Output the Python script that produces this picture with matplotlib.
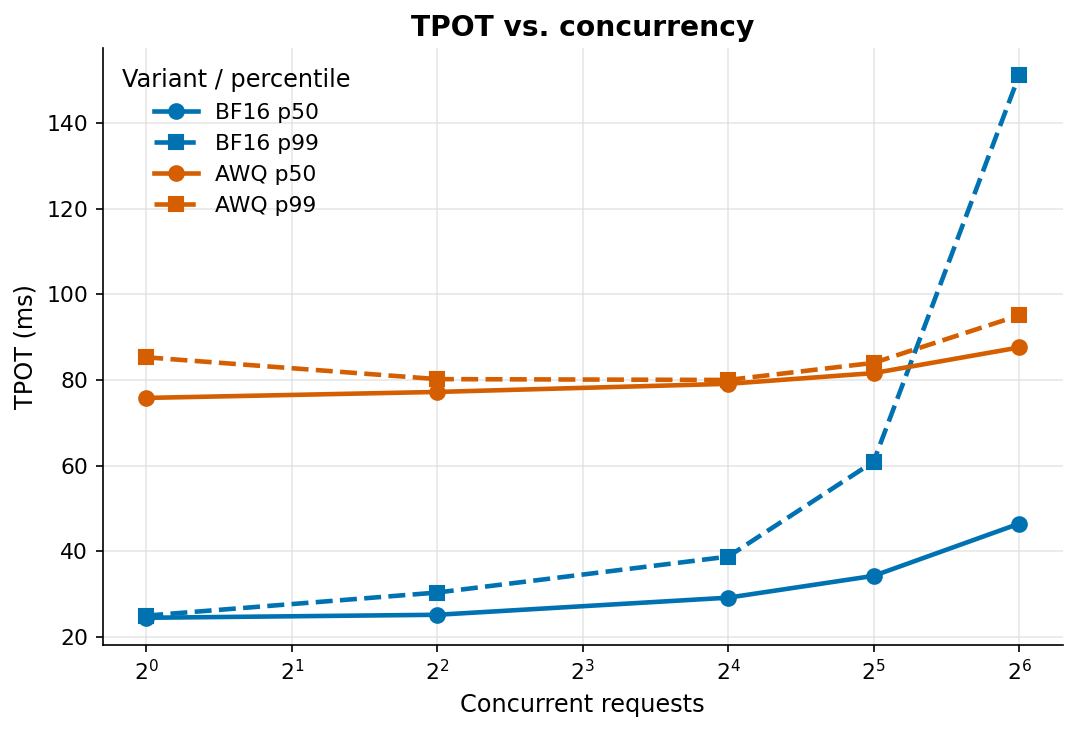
import numpy as np
import matplotlib.pyplot as plt

# Datos
concurrency = [1, 4, 16, 32, 64]
bf16_p50 = [24.4, 25.1, 29.1, 34.2, 46.4]
bf16_p99 = [24.9, 30.3, 38.7, 60.9, 151.2]
awq_p50 = [75.8, 77.2, 79.1, 81.6, 87.6]
awq_p99 = [85.3, 80.2, 80.0, 84.0, 95.1]

blue = '#0072B2'
orange = '#D55E00'

fig, ax = plt.subplots(figsize=(7.2, 4.88), dpi=150)

ax.plot(concurrency, bf16_p50, color=blue, linestyle='-', marker='o', lw=2.2, ms=7, label='BF16 p50')
ax.plot(concurrency, bf16_p99, color=blue, linestyle='--', marker='s', lw=2.2, ms=7, label='BF16 p99')
ax.plot(concurrency, awq_p50, color=orange, linestyle='-', marker='o', lw=2.2, ms=7, label='AWQ p50')
ax.plot(concurrency, awq_p99, color=orange, linestyle='--', marker='s', lw=2.2, ms=7, label='AWQ p99')

ax.set_xscale('log', base=2)
ax.set_xticks([2 ** i for i in range(7)])

ax.set_title('TPOT vs. concurrency', fontsize=13.5, fontweight='bold')
ax.set_xlabel('Concurrent requests', fontsize=11.5)
ax.set_ylabel('TPOT (ms)', fontsize=11.5)
ax.tick_params(labelsize=10.5)

ax.grid(True, color='#dddddd', alpha=0.7, linewidth=0.8)
ax.spines['top'].set_visible(False)
ax.spines['right'].set_visible(False)

ax.legend(title='Variant / percentile', loc='upper left', frameon=False, fontsize=10.5, title_fontsize=11.5)

fig.subplots_adjust(left=0.095, right=0.984, bottom=0.119, top=0.934)
fig.savefig('out.png', dpi=150)
